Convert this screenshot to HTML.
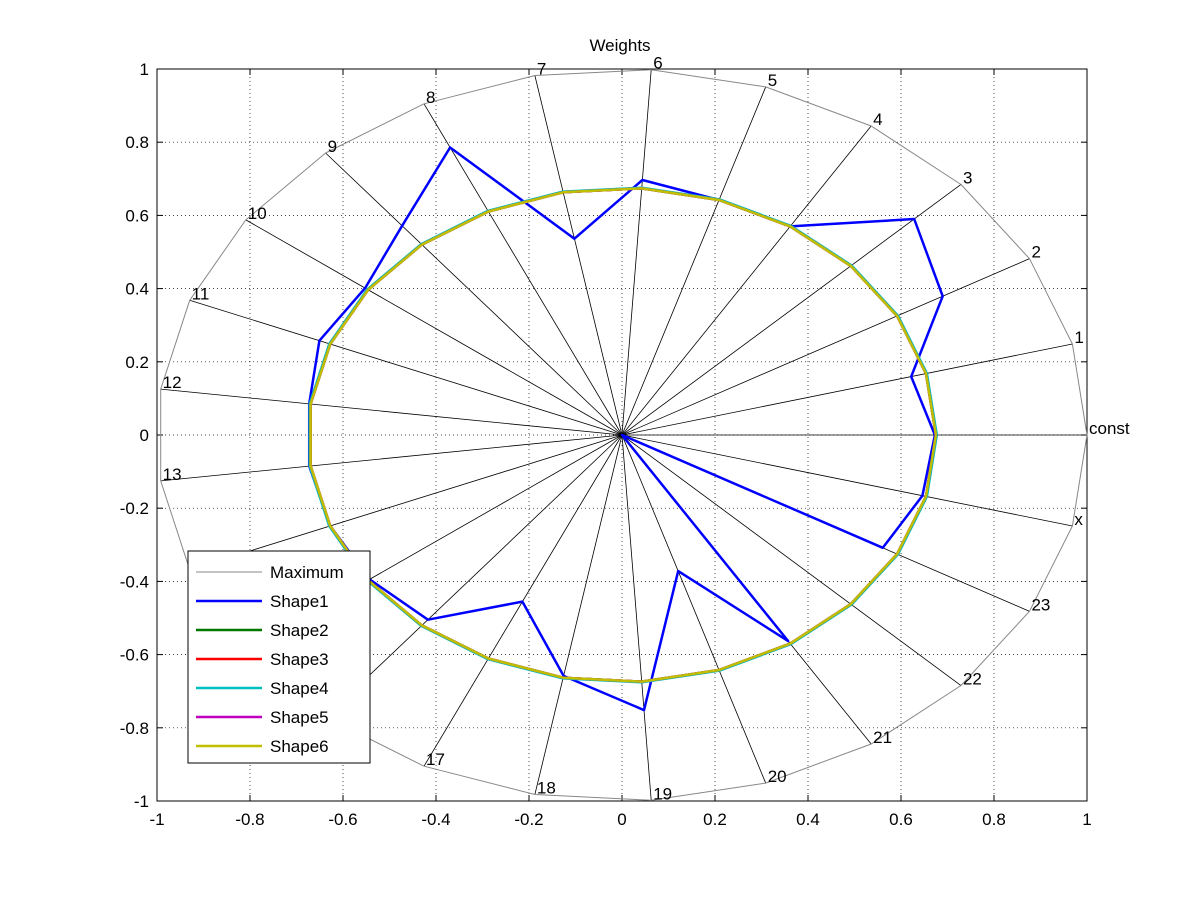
<!DOCTYPE html>
<html><head><meta charset="utf-8"><style>
body{margin:0;background:#fff;}
svg text{font-family:"Liberation Sans",Arial,sans-serif;font-size:17px;fill:#000;}
</style></head><body>
<svg id="s" width="1201" height="901" xmlns="http://www.w3.org/2000/svg"></svg>
<script>
const s=document.getElementById('s');
const X0=157,X1=1087,Y0=69,Y1=801,cx=622,cy=435,sx=465,sy=366;
let h='<rect width="1201" height="901" fill="#fff"/>';
for(let i=0;i<=10;i++){const v=-1+i*0.2;const x=cx+v*sx;const y=cy-v*sy;
 h+=`<line x1="${x}" y1="${Y0}" x2="${x}" y2="${Y1}" stroke="#000" stroke-width="0.7" stroke-dasharray="1,3"/>`;
 h+=`<line x1="${X0}" y1="${y}" x2="${X1}" y2="${y}" stroke="#000" stroke-width="0.7" stroke-dasharray="1,3"/>`;
 const lab=(Math.round(v*10)/10).toString();
 h+=`<text x="${x}" y="825" text-anchor="middle">${lab}</text>`;
 h+=`<text x="${X0-8}" y="${y+6}" text-anchor="end">${lab}</text>`;
 h+=`<line x1="${x}" y1="${Y1}" x2="${x}" y2="${Y1-6}" stroke="#000"/><line x1="${x}" y1="${Y0}" x2="${x}" y2="${Y0+6}" stroke="#000"/>`;
 h+=`<line x1="${X0}" y1="${y}" x2="${X0+6}" y2="${y}" stroke="#000"/><line x1="${X1}" y1="${y}" x2="${X1-6}" y2="${y}" stroke="#000"/>`;
}
h+=`<rect x="${X0}" y="${Y0}" width="${X1-X0}" height="${Y1-Y0}" fill="none" stroke="#000"/>`;
const N=25,names=['const'];for(let i=1;i<=23;i++)names.push(''+i);names.push('x');
const P=(k,r)=>{const a=k*2*Math.PI/N;return [cx+r*Math.cos(a)*sx,cy-r*Math.sin(a)*sy];};
const poly=(rs,col,w)=>{let pts=[];for(let k=0;k<=N;k++){const p=P(k%N,rs[k%N]);pts.push(p[0].toFixed(1)+','+p[1].toFixed(1));}
 return `<polyline points="${pts.join(' ')}" fill="none" stroke="${col}" stroke-width="${w}" stroke-linejoin="round"/>`;};
for(let k=0;k<N;k++){const p=P(k,1);h+=`<line x1="${cx}" y1="${cy}" x2="${p[0]}" y2="${p[1]}" stroke="#000" stroke-width="0.8"/>`;}
h+=poly(Array(N).fill(1),'#888',1);
for(let k=0;k<N;k++){const p=P(k,1);h+=`<text x="${p[0]+2}" y="${p[1]-1}">${names[k]}</text>`;}
const b=[0.673,0.642,0.787,0.862,0.675,0.675,0.698,0.546,0.868,0.742,0.683,0.70,0.678,0.678,0.675,0.671,0.655,0.503,0.67,0.753,0.391,0.667,0,0.64,0.667];
const y=Array(N).fill(0.675);
h+=poly(b,'#0000ff',2.5);
h+=poly(y,'#007700',2.5);
h+=poly(y,'#ff0000',2.5);
h+=poly(y.map(v=>v+0.002),'#00bfbf',2.5);
h+=poly(y,'#bf00bf',2.5);
h+=poly(y,'#bfbf00',2.5);
h+=`<text x="620" y="51" text-anchor="middle">Weights</text>`;
h+=`<rect x="188" y="551" width="182" height="212" fill="#fff" stroke="#000"/>`;
const L=[['Maximum','#888',1],['Shape1','#0000ff',2.5],['Shape2','#007700',2.5],['Shape3','#ff0000',2.5],['Shape4','#00bfbf',2.5],['Shape5','#bf00bf',2.5],['Shape6','#bfbf00',2.5]];
L.forEach((l,i)=>{const yy=572+i*29;h+=`<line x1="196" y1="${yy}" x2="262" y2="${yy}" stroke="${l[1]}" stroke-width="${l[2]}"/><text x="270" y="${yy+6}">${l[0]}</text>`;});
s.innerHTML=h;
</script>
</body></html>
